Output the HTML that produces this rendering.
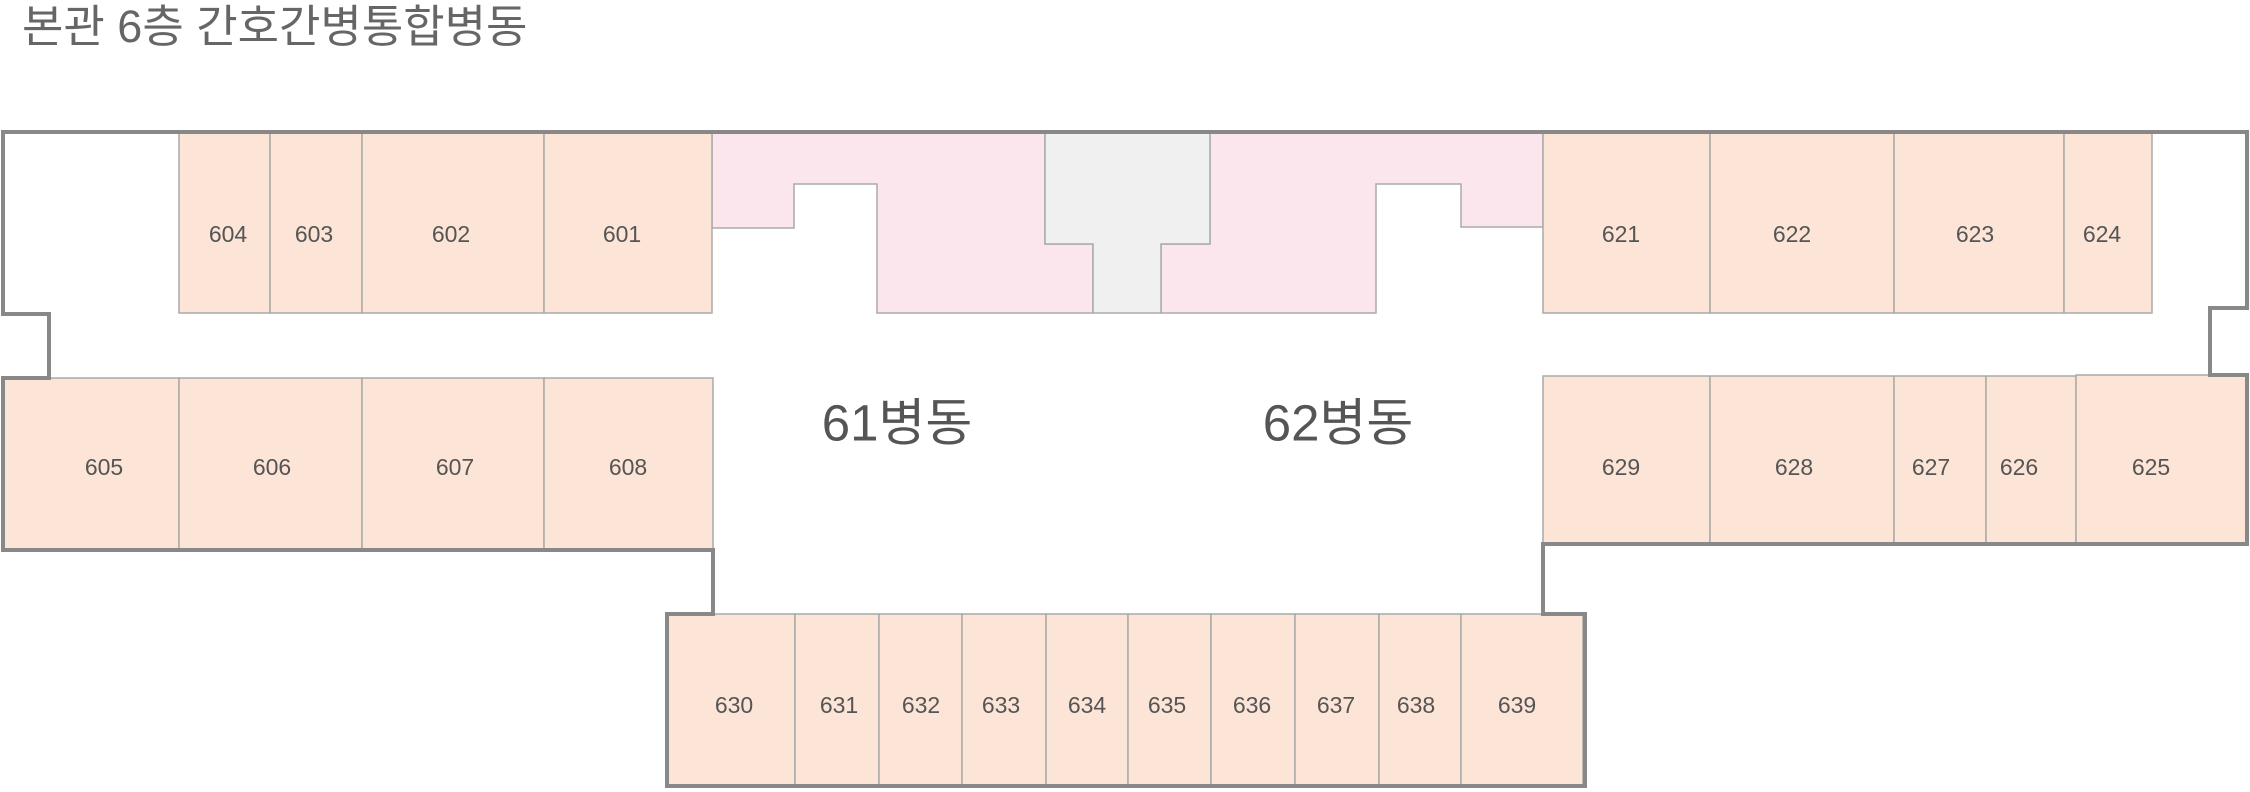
<!DOCTYPE html>
<html><head><meta charset="utf-8"><style>
html,body{margin:0;padding:0;background:#fff;width:2250px;height:792px;overflow:hidden}
svg{display:block}
text{font-family:"Liberation Sans","Noto Sans CJK KR",sans-serif;fill:#555}
.r{fill:#fce4d6;stroke:#aaa;stroke-width:1.5}
.n{font-size:23px;text-anchor:middle;dominant-baseline:central}
</style></head><body>
<svg width="2250" height="792" viewBox="0 0 2250 792" xmlns="http://www.w3.org/2000/svg">
<text x="22" y="42" style="font-size:45px;fill:#666">본관 6층 간호간병통합병동</text>

<polygon points="712,132 1045,132 1045,244 1093,244 1093,313 877,313 877,184 794,184 794,228 712,228" fill="#fbe6ee" stroke="#aaa" stroke-width="1.5"/>
<polygon points="1210,132 1543,132 1543,227 1461,227 1461,184 1376,184 1376,313 1161,313 1161,244 1210,244" fill="#fbe6ee" stroke="#aaa" stroke-width="1.5"/>
<polygon points="1045,132 1210,132 1210,244 1161,244 1161,313 1093,313 1093,244 1045,244" fill="#eff0ef" stroke="#aaa" stroke-width="1.5"/>

<rect class="r" x="179" y="132" width="91" height="181"/>
<rect class="r" x="270" y="132" width="92" height="181"/>
<rect class="r" x="362" y="132" width="182" height="181"/>
<rect class="r" x="544" y="132" width="168" height="181"/>
<text class="n" x="228" y="234">604</text>
<text class="n" x="314" y="234">603</text>
<text class="n" x="451" y="234">602</text>
<text class="n" x="622" y="234">601</text>

<rect class="r" x="1543" y="132" width="167" height="181"/>
<rect class="r" x="1710" y="132" width="184" height="181"/>
<rect class="r" x="1894" y="132" width="170" height="181"/>
<rect class="r" x="2064" y="132" width="88" height="181"/>
<text class="n" x="1621" y="234">621</text>
<text class="n" x="1792" y="234">622</text>
<text class="n" x="1975" y="234">623</text>
<text class="n" x="2102" y="234">624</text>

<rect class="r" x="3" y="378" width="176" height="172"/>
<rect class="r" x="179" y="378" width="183" height="172"/>
<rect class="r" x="362" y="378" width="182" height="172"/>
<rect class="r" x="544" y="378" width="169" height="172"/>
<text class="n" x="104" y="467">605</text>
<text class="n" x="272" y="467">606</text>
<text class="n" x="455" y="467">607</text>
<text class="n" x="628" y="467">608</text>

<rect class="r" x="1543" y="376" width="167" height="168"/>
<rect class="r" x="1710" y="376" width="184" height="168"/>
<rect class="r" x="1894" y="376" width="92" height="168"/>
<rect class="r" x="1986" y="376" width="90" height="168"/>
<rect class="r" x="2076" y="375" width="171" height="169"/>
<text class="n" x="1621" y="467">629</text>
<text class="n" x="1794" y="467">628</text>
<text class="n" x="1931" y="467">627</text>
<text class="n" x="2019" y="467">626</text>
<text class="n" x="2151" y="467">625</text>

<rect class="r" x="667" y="614" width="128" height="172"/>
<rect class="r" x="795" y="614" width="84" height="172"/>
<rect class="r" x="879" y="614" width="83" height="172"/>
<rect class="r" x="962" y="614" width="84" height="172"/>
<rect class="r" x="1046" y="614" width="82" height="172"/>
<rect class="r" x="1128" y="614" width="83" height="172"/>
<rect class="r" x="1211" y="614" width="84" height="172"/>
<rect class="r" x="1295" y="614" width="84" height="172"/>
<rect class="r" x="1379" y="614" width="82" height="172"/>
<rect class="r" x="1461" y="614" width="122" height="172"/>
<text class="n" x="734" y="705">630</text>
<text class="n" x="839" y="705">631</text>
<text class="n" x="921" y="705">632</text>
<text class="n" x="1001" y="705">633</text>
<text class="n" x="1087" y="705">634</text>
<text class="n" x="1167" y="705">635</text>
<text class="n" x="1252" y="705">636</text>
<text class="n" x="1336" y="705">637</text>
<text class="n" x="1416" y="705">638</text>
<text class="n" x="1517" y="705">639</text>

<polygon points="3,132 2247,132 2247,308 2210,308 2210,375 2247,375 2247,544 1543,544 1543,614 1585,614 1585,786 667,786 667,614 713,614 713,550 3,550 3,378 49,378 49,314 3,314" fill="none" stroke="#888" stroke-width="4"/>

<text x="897" y="423" style="font-size:51px;text-anchor:middle;dominant-baseline:central">61병동</text>
<text x="1338" y="423" style="font-size:51px;text-anchor:middle;dominant-baseline:central">62병동</text>
</svg>
</body></html>
